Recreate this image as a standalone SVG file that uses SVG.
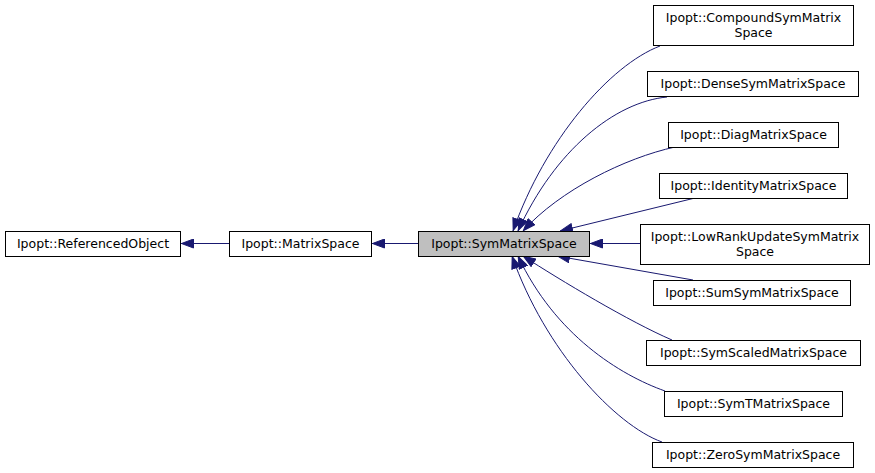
<svg xmlns="http://www.w3.org/2000/svg" width="875" height="473" viewBox="0 0 875 473">
<style>
.n rect{fill:#fff;stroke:#000;stroke-width:1}
.n.h rect{fill:#bfbfbf}
.n text{font-family:"DejaVu Sans",sans-serif;font-size:12.5px;text-anchor:middle;fill:#000}
.e path{fill:none;stroke:#191970;stroke-width:1;marker-end:url(#a)}
</style>
<defs>
<marker id="a" viewBox="0 0 13 10" refX="13" refY="5" markerWidth="13" markerHeight="10" markerUnits="userSpaceOnUse" orient="auto">
<path d="M0.5,0.5 L12.5,5 L0.5,9.5 Z" fill="#191970" stroke="#191970"/>
</marker>
</defs>
<rect width="875" height="473" fill="#fff"/>
<g id="edges" class="e">
<path d="M229,243.5 L181,243.5"/>
<path d="M418,243.5 L372,243.5"/>
<path d="M660,46 C610,65 545,140 513,231"/>
<path d="M667,97 C615,102 555,150 518,231"/>
<path d="M675,147 C625,158 560,190 523,231"/>
<path d="M695,198 L560,231"/>
<path d="M640,243.5 L590,243.5"/>
<path d="M693,280 L557,256"/>
<path d="M672,340 C630,322 560,280 523,256"/>
<path d="M665,391 C620,375 555,335 518,256"/>
<path d="M662,442 C615,425 545,350 512,256"/>
</g>
<g id="n_referencedobject" class="n"><rect x="5.5" y="231.5" width="175" height="25"/><text x="93" y="248">Ipopt::ReferencedObject</text></g>
<g id="n_matrixspace" class="n"><rect x="229.5" y="231.5" width="142" height="25"/><text x="300.5" y="248">Ipopt::MatrixSpace</text></g>
<g id="n_symmatrixspace" class="n h"><rect x="418.5" y="231.5" width="171" height="25"/><text x="504" y="248">Ipopt::SymMatrixSpace</text></g>
<g id="n_compound" class="n"><rect x="653.5" y="5.5" width="200" height="40"/><text x="753.5" y="21.5">Ipopt::CompoundSymMatrix</text><text x="753.5" y="36.5">Space</text></g>
<g id="n_dense" class="n"><rect x="647.5" y="71.5" width="211" height="25"/><text x="753" y="88">Ipopt::DenseSymMatrixSpace</text></g>
<g id="n_diag" class="n"><rect x="668.5" y="122.5" width="170" height="25"/><text x="753.5" y="139">Ipopt::DiagMatrixSpace</text></g>
<g id="n_identity" class="n"><rect x="659.5" y="173.5" width="188" height="25"/><text x="753.5" y="190">Ipopt::IdentityMatrixSpace</text></g>
<g id="n_lowrank" class="n"><rect x="640.5" y="224.5" width="229" height="40"/><text x="755" y="240.5">Ipopt::LowRankUpdateSymMatrix</text><text x="755" y="255.5">Space</text></g>
<g id="n_sum" class="n"><rect x="653.5" y="280.5" width="197" height="25"/><text x="752" y="297">Ipopt::SumSymMatrixSpace</text></g>
<g id="n_symscaled" class="n"><rect x="646.5" y="340.5" width="214" height="25"/><text x="753.5" y="357">Ipopt::SymScaledMatrixSpace</text></g>
<g id="n_symt" class="n"><rect x="664.5" y="391.5" width="178" height="25"/><text x="753.5" y="408">Ipopt::SymTMatrixSpace</text></g>
<g id="n_zero" class="n"><rect x="652.5" y="442.5" width="201" height="25"/><text x="753" y="459">Ipopt::ZeroSymMatrixSpace</text></g>
</svg>
